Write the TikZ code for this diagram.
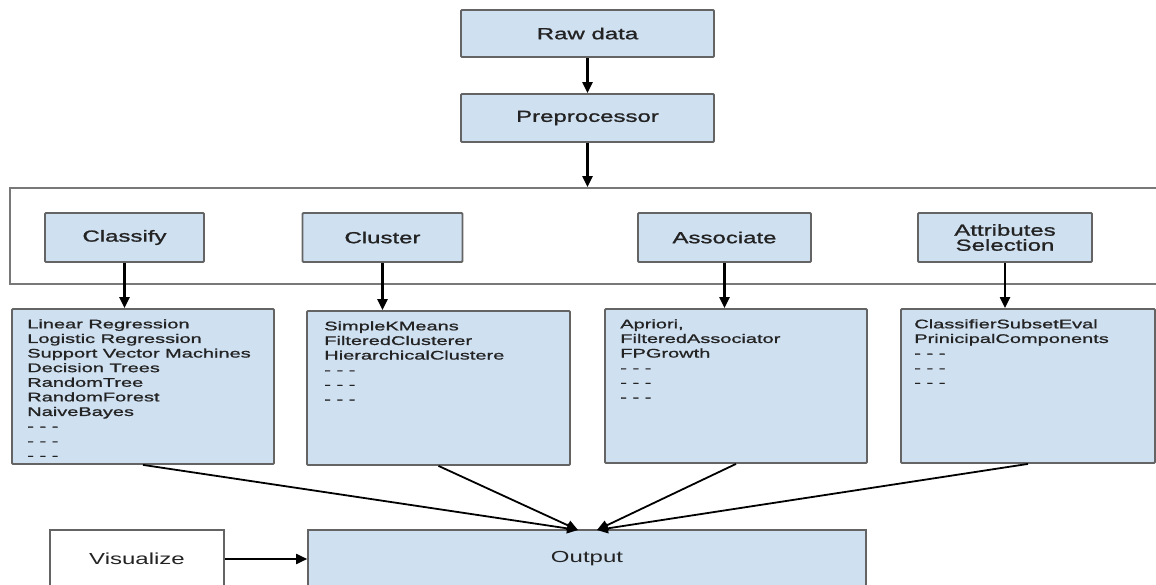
\documentclass[tikz,border=0pt]{standalone}
\usepackage{fontspec}
\setmainfont{Liberation Sans}[FakeStretch=1.5]
\newfontfamily\labelfont{Liberation Sans}[FakeStretch=1.5,FakeBold=1.2]
\newfontfamily\listfont{Liberation Sans}[FakeStretch=1.6,FakeBold=1.1]
\usetikzlibrary{arrows.meta}
\definecolor{boxfill}{RGB}{207,224,241}
\definecolor{boxline}{RGB}{100,100,100}
\definecolor{frameline}{RGB}{120,120,120}
\definecolor{txt}{RGB}{35,35,35}
\tikzset{
  bluebox/.style={draw=boxline, line width=1.8pt, fill=boxfill, rounded corners=1pt, inner sep=0pt, text=txt, font=\labelfont\fontsize{16}{16}\selectfont, align=center},
  listbox/.style={draw=boxline, line width=1.8pt, fill=boxfill, rounded corners=1pt, inner sep=0pt},
  listtext/.style={anchor=north west, inner sep=0pt, align=left, text=txt, font=\listfont\fontsize{12.5}{14.6}\selectfont},
  plainbox/.style={draw=boxline, line width=1.6pt, inner sep=0pt, text=txt, font=\fontsize{16}{16}\selectfont},
  arr/.style={draw=black, line width=2.2pt, -{Triangle[length=11pt,width=10pt]}},
  thinarr/.style={draw=black, line width=1.8pt, -{Triangle[length=11pt,width=10pt]}}
}
\begin{document}
\begin{tikzpicture}[x=1pt,y=-1pt]
\useasboundingbox (0,0) rectangle (1156,585);
\clip (0,0) rectangle (1156,585);
% top chain
\node[bluebox, minimum width=253pt, minimum height=47pt] (raw) at (587.5,33.5) {Raw data};
\node[bluebox, minimum width=253pt, minimum height=48pt] (pre) at (587.5,118) {Preprocessor};
% frame
\node[draw=frameline, line width=1.8pt, minimum width=1160pt, minimum height=96pt, inner sep=0pt] (frame) at (590,236) {};
% task boxes
\node[bluebox, minimum width=159pt, minimum height=49pt] (cls) at (124.5,237.5) {Classify};
\node[bluebox, minimum width=160pt, minimum height=49pt] (clu) at (382.5,237.5) {Cluster};
\node[bluebox, minimum width=173pt, minimum height=49pt] (ass) at (724.5,237.5) {Associate};
\node[bluebox, minimum width=174pt, minimum height=49pt] (att) at (1005,237.5) {Attributes\\[-1pt]Selection};
% list boxes
\node[listbox, minimum width=262pt, minimum height=155pt] (clsl) at (143,386.5) {};
\node[listbox, minimum width=263pt, minimum height=154pt] (clul) at (438.5,388) {};
\node[listbox, minimum width=262pt, minimum height=154pt] (assl) at (736,386) {};
\node[listbox, minimum width=254pt, minimum height=154pt] (attl) at (1028,386) {};
\node[listtext] (clst) at ([xshift=16pt,yshift=-11pt]clsl.north west) {Linear Regression\\Logistic Regression\\Support Vector Machines\\Decision Trees\\RandomTree\\RandomForest\\NaiveBayes\\- - -\\- - -\\- - -};
\node[listtext] (clut) at ([xshift=18pt,yshift=-11pt]clul.north west) {SimpleKMeans\\FilteredClusterer\\HierarchicalClustere\\- - -\\- - -\\- - -};
\node[listtext] (asst) at ([xshift=16pt,yshift=-11pt]assl.north west) {Apriori,\\FilteredAssociator\\FPGrowth\\- - -\\- - -\\- - -};
\node[listtext] (attt) at ([xshift=14pt,yshift=-11pt]attl.north west) {ClassifierSubsetEval\\PrinicipalComponents\\- - -\\- - -\\- - -};
% bottom
\node[plainbox, fill=boxfill, minimum width=558pt, minimum height=58pt] (out) at (587,559) {Output};
\node[plainbox, fill=white, minimum width=174pt, minimum height=58pt] (vis) at (137,559) {Visualize};
\coordinate (inL) at (578,530);
\coordinate (inR) at (597,530);
% arrows
\draw[arr] (raw.south) -- (pre.north);
\draw[arr] (pre.south) -- (pre.south |- frame.north);
\draw[arr] (cls.south) -- (cls.south |- clsl.north);
\draw[arr] (clu.south) -- (clu.south |- clul.north);
\draw[arr] (ass.south) -- (ass.south |- assl.north);
\draw[arr] (att.south) -- (att.south |- attl.north);
\draw[thinarr] (clsl.south) -- (inL);
\draw[thinarr] (clul.south) -- (inL);
\draw[thinarr] (assl.south) -- (inR);
\draw[thinarr] (attl.south) -- (inR);
\draw[thinarr] (vis.east) -- (out.west);
\end{tikzpicture}
\end{document}
